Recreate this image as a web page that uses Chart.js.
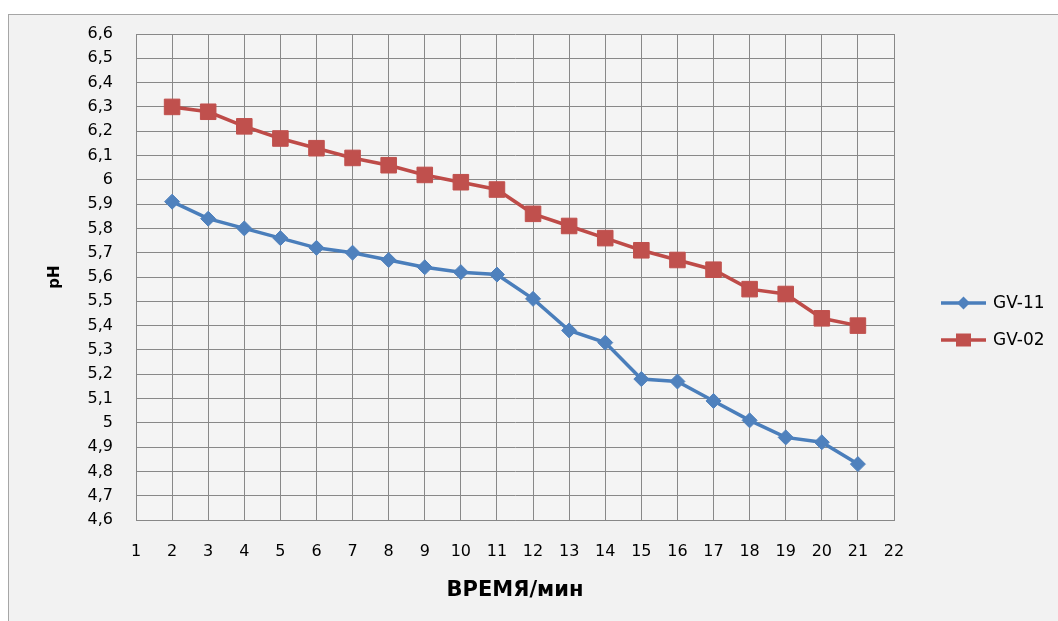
<!DOCTYPE html>
<html>
<head>
<meta charset="utf-8">
<script src="https://cdn.jsdelivr.net/npm/chart.js@4.4.1/dist/chart.umd.min.js"></script>
<style>
  html, body { margin: 0; padding: 0; background: #ffffff; }
  #frame { position: absolute; left: 8px; top: 14px; width: 1100px; height: 700px; background: #f2f2f2; border: 1px solid #a6a6a6; }
  #wrap { position: absolute; left: 0; top: 0; width: 1058px; height: 621px; }
</style>
</head>
<body>
<div id="frame"></div>
<div id="wrap"><canvas id="chart"></canvas></div>
<script>
// time, minutes
const times = [2, 3, 4, 5, 6, 7, 8, 9, 10, 11, 12, 13, 14, 15, 16, 17, 18, 19, 20, 21];
// pH readings
const gv11 = [5.91, 5.84, 5.80, 5.76, 5.72, 5.70, 5.67, 5.64, 5.62, 5.61, 5.51, 5.38, 5.33, 5.18, 5.17, 5.09, 5.01, 4.94, 4.92, 4.83];
const gv02 = [6.30, 6.28, 6.22, 6.17, 6.13, 6.09, 6.06, 6.02, 5.99, 5.96, 5.86, 5.81, 5.76, 5.71, 5.67, 5.63, 5.55, 5.53, 5.43, 5.40];
const seriesNames = ["GV-11", "GV-02"];
const xRange = [1, 22];
const yRange = [4.6, 6.6];

const gridColor = "#888888";
const tickFont = { family: "DejaVu Sans", size: 16 };

function toPoints(xs, ys) {
    return xs.map((x, i) => ({ x: x, y: ys[i] }));
}

// light fill behind the plot area
const plotBg = {
    id: "plotBg",
    beforeDraw(chart) {
        const { ctx, chartArea: a } = chart;
        ctx.save();
        ctx.fillStyle = "#f4f4f4";
        ctx.fillRect(a.left, a.top, a.right - a.left, a.bottom - a.top);
        ctx.restore();
    }
};

// excel style legend: line with the marker in the middle
const sideLegend = {
    id: "sideLegend",
    afterDraw(chart) {
        const { ctx, chartArea: a } = chart;
        const x0 = a.right + 47;
        const x1 = x0 + 45;
        ctx.save();
        chart.data.datasets.forEach((ds, i) => {
            const y = a.top + 269 + i * 37;
            ctx.strokeStyle = ds.borderColor;
            ctx.lineWidth = 3.5;
            ctx.beginPath();
            ctx.moveTo(x0, y);
            ctx.lineTo(x1, y);
            ctx.stroke();
            const cx = (x0 + x1) / 2;
            ctx.fillStyle = ds.pointBackgroundColor;
            ctx.beginPath();
            if (ds.pointStyle === "rectRot") {
                ctx.moveTo(cx - 6.5, y);
                ctx.lineTo(cx, y - 6.5);
                ctx.lineTo(cx + 6.5, y);
                ctx.lineTo(cx, y + 6.5);
                ctx.closePath();
            } else {
                ctx.rect(cx - 7.5, y - 6.5, 15, 13);
            }
            ctx.fill();
            ctx.fillStyle = "#000000";
            ctx.font = "17px 'DejaVu Sans'";
            ctx.textBaseline = "middle";
            ctx.textAlign = "left";
            ctx.fillText(ds.label, x1 + 7, y + 1);
        });
        ctx.restore();
    }
};

new Chart(document.getElementById("chart"), {
    type: "line",
    data: {
        datasets: [
            {
                label: seriesNames[0],
                data: toPoints(times, gv11),
                borderColor: "#4a7ebb",
                borderWidth: 3.5,
                pointStyle: "rectRot",
                pointRadius: 7.5,
                pointBackgroundColor: "#4f81bd",
                pointBorderColor: "#4f81bd",
                pointBorderWidth: 1,
                tension: 0
            },
            {
                label: seriesNames[1],
                data: toPoints(times, gv02),
                borderColor: "#be4b48",
                borderWidth: 3.5,
                pointStyle: "rect",
                pointRadius: 11,
                pointBackgroundColor: "#c0504d",
                pointBorderColor: "#c0504d",
                pointBorderWidth: 1,
                tension: 0
            }
        ]
    },
    options: {
        responsive: true,
        maintainAspectRatio: false,
        animation: false,
        layout: { padding: { left: 0, top: 34, right: 164, bottom: 0 } },
        plugins: {
            legend: { display: false },
            tooltip: { enabled: false }
        },
        scales: {
            x: {
                type: "linear",
                min: xRange[0],
                max: xRange[1],
                afterFit: (s) => { s.height = 101; },
                ticks: { stepSize: 1, color: "#000000", font: tickFont, padding: 22, maxRotation: 0 },
                grid: { color: gridColor, lineWidth: 1, drawTicks: false },
                border: { color: gridColor, width: 1 },
                title: {
                    display: true,
                    text: "ВРЕМЯ/мин",
                    color: "#000000",
                    font: { family: "DejaVu Sans", size: 21, weight: "bold" },
                    padding: { top: 0, bottom: 18 }
                }
            },
            y: {
                min: yRange[0],
                max: yRange[1],
                afterFit: (s) => { s.width = 136; },
                ticks: {
                    stepSize: 0.1,
                    color: "#000000",
                    font: tickFont,
                    padding: 23,
                    callback: (v) => String(Number(v.toFixed(1))).replace(".", ",")
                },
                grid: { color: gridColor, lineWidth: 1, drawTicks: false },
                border: { color: gridColor, width: 1 },
                title: {
                    display: true,
                    text: "pH",
                    color: "#000000",
                    font: { family: "DejaVu Sans", size: 15, weight: "bold" },
                    padding: { top: 46, bottom: 0 }
                }
            }
        }
    },
    plugins: [plotBg, sideLegend]
});
</script>
</body>
</html>
